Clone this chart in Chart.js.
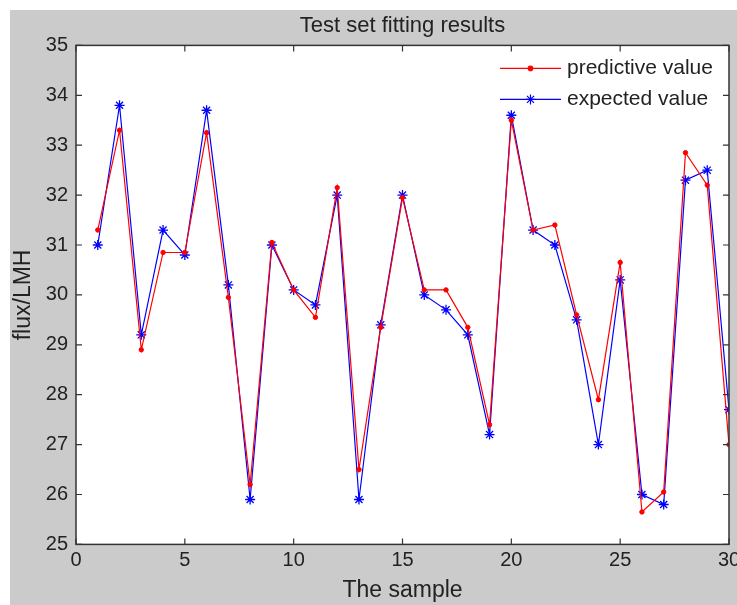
<!DOCTYPE html>
<html>
<head>
<meta charset="utf-8">
<script src="https://cdn.jsdelivr.net/npm/chart.js@4.4.0/dist/chart.umd.min.js"></script>
<style>
  html, body { margin: 0; padding: 0; background: #fff; }
  #wrap { width: 737px; height: 605px; }
</style>
</head>
<body>
<div id="wrap"><canvas id="fitChart" width="737" height="605"></canvas></div>
<script>
// sample numbers 1..30
const samples = Array.from({ length: 30 }, (_, i) => i + 1);

const predictive = [31.3, 33.3, 28.9, 30.85, 30.85, 33.25, 29.95, 26.2, 31.05, 30.1,
  29.55, 32.15, 26.5, 29.35, 31.95, 30.1, 30.1, 29.35, 27.4, 33.5,
  31.3, 31.4, 29.6, 27.9, 30.65, 25.65, 26.05, 32.85, 32.2, 27.0];

const expected = [31.0, 33.8, 29.2, 31.3, 30.8, 33.7, 30.2, 25.9, 31.0, 30.1,
  29.8, 32.0, 25.9, 29.4, 32.0, 30.0, 29.7, 29.2, 27.2, 33.6,
  31.3, 31.0, 29.5, 27.0, 30.3, 26.0, 25.8, 32.3, 32.5, 27.7];

const xTicks = [0, 5, 10, 15, 20, 25, 30];
const yTicks = [25, 26, 27, 28, 29, 30, 31, 32, 33, 34, 35];

const FONT = '"Liberation Sans Narrow", "Liberation Sans", Arial, sans-serif';
const GREY = '#cbcbcb';
const TEXT = '#222';

// figure background, white axes box, inward ticks on all four sides, legend top-right
const matlabFrame = {
  id: 'matlabFrame',
  beforeDraw(chart) {
    const { ctx, chartArea: a } = chart;
    ctx.save();
    ctx.fillStyle = GREY;
    ctx.fillRect(10, 10, chart.width - 10, chart.height - 10);
    ctx.fillStyle = '#fff';
    ctx.fillRect(a.left, a.top, a.right - a.left, a.bottom - a.top);
    ctx.restore();
  },
  afterDatasetsDraw(chart) {
    const { ctx, chartArea: a, scales } = chart;
    ctx.save();
    ctx.strokeStyle = '#333';
    ctx.lineWidth = 1.5;
    ctx.strokeRect(a.left, a.top, a.right - a.left, a.bottom - a.top);
    ctx.lineWidth = 1.2;
    const len = 6;
    ctx.beginPath();
    xTicks.forEach(v => {
      const x = scales.x.getPixelForValue(v);
      ctx.moveTo(x, a.bottom); ctx.lineTo(x, a.bottom - len);
      ctx.moveTo(x, a.top); ctx.lineTo(x, a.top + len);
    });
    yTicks.forEach(v => {
      const y = scales.y.getPixelForValue(v);
      ctx.moveTo(a.left, y); ctx.lineTo(a.left + len, y);
      ctx.moveTo(a.right, y); ctx.lineTo(a.right - len, y);
    });
    ctx.stroke();

    // legend
    const lineStart = a.right - 229, lineEnd = a.right - 168, textX = a.right - 162;
    ctx.font = '21px ' + FONT;
    ctx.textBaseline = 'middle';
    chart.data.datasets.forEach((ds, i) => {
      const y = a.top + 23 + i * 31;
      ctx.strokeStyle = ds.borderColor;
      ctx.lineWidth = ds.borderWidth;
      ctx.beginPath();
      ctx.moveTo(lineStart, y); ctx.lineTo(lineEnd, y);
      ctx.stroke();
      ctx.fillStyle = ds.backgroundColor;
      Chart.helpers.drawPoint(ctx, {
        pointStyle: ds.pointStyle, radius: ds.pointRadius, borderWidth: ds.pointBorderWidth, rotation: 0
      }, (lineStart + lineEnd) / 2, y);
      ctx.fillStyle = TEXT;
      ctx.fillText(ds.label, textX, y);
    });
    ctx.restore();
  }
};

new Chart(document.getElementById('fitChart'), {
  type: 'line',
  data: {
    datasets: [
      {
        label: 'predictive value',
        data: samples.map((s, i) => ({ x: s, y: predictive[i] })),
        borderColor: '#ff0000',
        backgroundColor: '#ff0000',
        borderWidth: 1.2,
        pointStyle: 'circle',
        pointRadius: 2.2,
        pointBorderWidth: 1,
        tension: 0
      },
      {
        label: 'expected value',
        data: samples.map((s, i) => ({ x: s, y: expected[i] })),
        borderColor: '#0000ff',
        backgroundColor: '#0000ff',
        borderWidth: 1.2,
        pointStyle: 'star',
        pointRadius: 5,
        pointBorderWidth: 1.3,
        tension: 0
      }
    ]
  },
  options: {
    responsive: false,
    animation: false,
    layout: { padding: { top: 0, right: 8, bottom: 0, left: 10 } },
    scales: {
      x: {
        type: 'linear',
        min: 0,
        max: 30,
        grid: { display: false, drawTicks: false },
        border: { display: false },
        afterBuildTicks: (scale) => { scale.ticks = xTicks.map(v => ({ value: v })); },
        afterFit: (scale) => { scale.paddingRight = 0; scale.paddingLeft = 0; },
        ticks: { color: TEXT, font: { family: FONT, size: 20 }, padding: 4, maxRotation: 0 },
        title: { display: true, text: 'The sample', color: TEXT, font: { family: FONT, size: 23 }, padding: { top: 0, bottom: 1 } }
      },
      y: {
        min: 25,
        max: 35,
        grid: { display: false, drawTicks: false },
        border: { display: false },
        afterBuildTicks: (scale) => { scale.ticks = yTicks.map(v => ({ value: v })); },
        afterFit: (scale) => { scale.width = 66; },
        ticks: { color: TEXT, font: { family: FONT, size: 20 }, padding: 8 },
        title: { display: true, text: 'flux/LMH', color: TEXT, font: { family: FONT, size: 23 }, padding: { top: 0, bottom: 2 } }
      }
    },
    plugins: {
      title: {
        display: true,
        fullSize: false,
        text: 'Test set fitting results',
        color: TEXT,
        font: { family: FONT, size: 22, weight: 'normal' },
        padding: { top: 13, bottom: 6 }
      },
      legend: { display: false },
      tooltip: { enabled: false }
    }
  },
  plugins: [matlabFrame]
});
</script>
</body>
</html>
